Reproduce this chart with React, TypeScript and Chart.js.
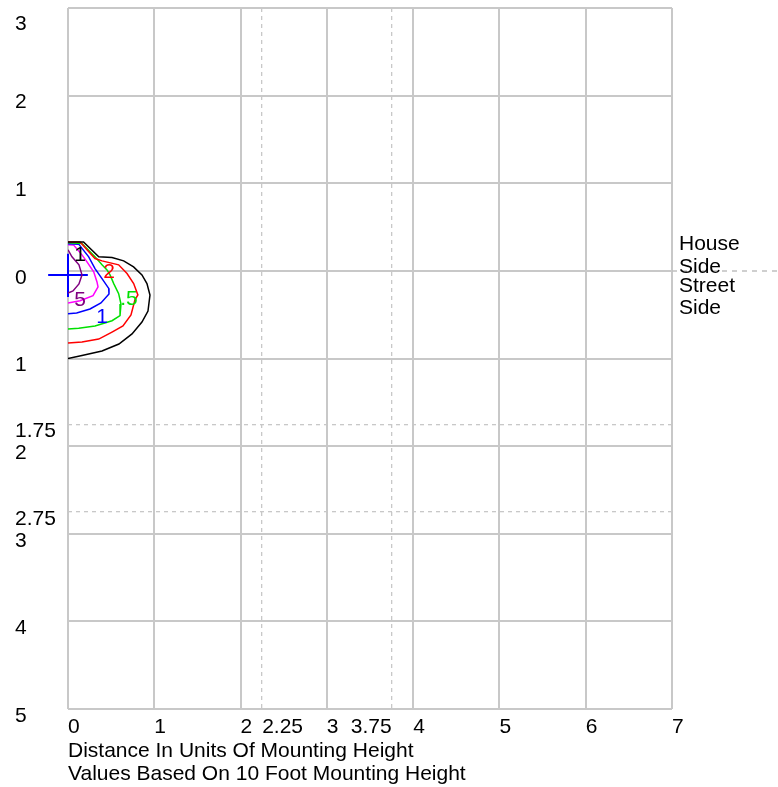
import React, { useEffect, useRef } from 'react';
import { Chart, registerables } from 'chart.js';

Chart.register(...registerables);

// Tick values (x = distance along street, y = house side (+) / street side (-))
const xTicks = [0, 1, 2, 2.25, 3, 3.75, 4, 5, 6, 7];
const xTicksRightAligned = [3.75];
const yTicks = [-5, -4, -3, -2.75, -2, -1.75, -1, 0, 1, 2, 3];

// Iso-footcandle contours, [x, y] in mounting heights
const contour01: [number, number][] = [
  [0, 0.33], [0.18, 0.33], [0.356, 0.16], [0.51, 0.152], [0.645, 0.114], [0.76, 0.046],
  [0.857, -0.046], [0.915, -0.145], [0.95, -0.275], [0.927, -0.458], [0.857, -0.584],
  [0.742, -0.72], [0.59, -0.835], [0.394, -0.915], [0.162, -0.965], [0, -1.0],
];
const contour02: [number, number][] = [
  [0, 0.33], [0.14, 0.33], [0.22, 0.24], [0.313, 0.141], [0.394, 0.114], [0.587, 0.069],
  [0.684, -0.031], [0.761, -0.145], [0.81, -0.275], [0.776, -0.33], [0.73, -0.503],
  [0.637, -0.629], [0.51, -0.698], [0.356, -0.778], [0.162, -0.812], [0, -0.824],
];
const contour05: [number, number][] = [
  [0, 0.32], [0.162, 0.312], [0.313, 0.16], [0.394, 0.069], [0.452, 0.011], [0.487, -0.046],
  [0.53, -0.145], [0.587, -0.26], [0.614, -0.378], [0.603, -0.511], [0.51, -0.569],
  [0.313, -0.629], [0.124, -0.656], [0, -0.664],
];
const contour1: [number, number][] = [
  [0, 0.31], [0.124, 0.305], [0.24, 0.16], [0.313, 0.026], [0.394, -0.088], [0.472, -0.2],
  [0.475, -0.263], [0.382, -0.366], [0.255, -0.435], [0.1, -0.48], [0, -0.49],
];
const contour2: [number, number][] = [
  [0, 0.297], [0.066, 0.294], [0.162, 0.183], [0.22, 0.103], [0.298, -0.011], [0.336, -0.126],
  [0.348, -0.183], [0.29, -0.283], [0.139, -0.34], [0, -0.366],
];
const contour5: [number, number][] = [
  [0, 0.24], [0.046, 0.16], [0.127, 0.069], [0.162, -0.046], [0.127, -0.149], [0.058, -0.229], [0, -0.252],
];

// Luminaire cross and house/street divider
const crossH: [number, number][] = [[-0.23, -0.046], [0.23, -0.046]];
const crossV: [number, number][] = [[0, 0.195], [0, -0.297]];
const divider: [number, number][] = [[7, 0], [8.25, 0]];

const contourLabels = [
  { text: '1', x: 0.139, y: 0.195, color: '#000000' },
  { text: '2', x: 0.475, y: -0.005, color: '#ff0000' },
  { text: '.5', x: 0.707, y: -0.309, color: '#00e000' },
  { text: '1', x: 0.394, y: -0.515, color: '#0000ff' },
  { text: '5', x: 0.139, y: -0.32, color: '#800080' },
];
const sideLabels = ['House', 'Side', 'Street', 'Side'];

const xTitle = ['Distance In Units Of Mounting Height', 'Values Based On 10 Foot Mounting Height'];

const FONT = "'Liberation Sans', Arial, sans-serif";

const toPts = (a: [number, number][]) => a.map(([x, y]) => ({ x, y }));

export default function App() {
  const ref = useRef<HTMLCanvasElement | null>(null);

  useEffect(() => {
    if (!ref.current) return;
    const frac = (v: number) => Math.abs(v % 1) > 1e-9;

    // give the zero-height secondary x axis room so its label is not clipped
    const labelAreaPlugin = {
      id: 'labelArea',
      afterLayout(chart: any) {
        const s = chart.scales.x2;
        if (s) {
          s.bottom = s.top + 40;
          s.height = 40;
        }
      },
    };

    const textPlugin = {
      id: 'texts',
      afterDatasetsDraw(chart: any) {
        const { ctx, scales, chartArea } = chart;
        const xs = scales.x;
        const ys = scales.y;
        ctx.save();
        ctx.font = `21px ${FONT}`;
        ctx.textBaseline = 'middle';
        ctx.textAlign = 'center';
        contourLabels.forEach((l) => {
          ctx.fillStyle = l.color;
          ctx.fillText(l.text, xs.getPixelForValue(l.x), ys.getPixelForValue(l.y) + 1);
        });
        ctx.textAlign = 'left';
        ctx.fillStyle = '#000000';
        const zero = ys.getPixelForValue(0);
        const offs = [-27, -4, 15, 37];
        sideLabels.forEach((t, i) => {
          ctx.fillText(t, chartArea.right + 7, zero + offs[i]);
        });
        ctx.restore();
      },
    };

    const ds = (data: [number, number][], color: string, extra: any = {}) => ({
      data: toPts(data),
      borderColor: color,
      backgroundColor: color,
      borderWidth: 1.5,
      pointRadius: 0,
      showLine: true,
      fill: false,
      tension: 0,
      ...extra,
    });

    const tickFont = { family: FONT, size: 21, lineHeight: 1.2 };

    const chart = new Chart(ref.current, {
      type: 'scatter',
      data: {
        datasets: [
          ds(divider, '#c0c0c0', { borderDash: [5, 5], borderWidth: 1.5, clip: false }),
          ds(contour01, '#000000'),
          ds(contour02, '#ff0000'),
          ds(contour05, '#00e000'),
          ds(contour1, '#0000ff'),
          ds(contour2, '#ff00ff'),
          ds(contour5, '#800080'),
          ds(crossH, '#0000ff', { borderWidth: 2, clip: false }),
          ds(crossV, '#0000ff', { borderWidth: 2, clip: false }),
        ],
      },
      options: {
        animation: false,
        responsive: false,
        devicePixelRatio: 1,
        layout: { padding: { left: 15, top: 8, right: 106, bottom: 0 } },
        plugins: { legend: { display: false }, tooltip: { enabled: false } },
        scales: {
          x: {
            type: 'linear',
            min: 0,
            max: 7,
            weight: 0,
            afterBuildTicks: (s: any) => {
              s.ticks = xTicks.map((v) => ({ value: v }));
            },
            afterFit: (s: any) => {
              s.height = 78;
              s.paddingLeft = 0;
              s.paddingRight = 0;
            },
            ticks: {
              autoSkip: false,
              maxRotation: 0,
              minRotation: 0,
              align: 'start',
              padding: 6,
              color: '#000000',
              font: tickFont,
              callback: (v: any) => (xTicksRightAligned.includes(v) ? '' : String(v)),
            },
            grid: {
              drawTicks: false,
              color: '#c8c8c8',
              lineWidth: (c: any) => (c.tick && frac(c.tick.value) ? 1.3 : 2),
            },
            border: {
              display: false,
              dash: (c: any) => (c.tick && frac(c.tick.value) ? [4, 4] : []),
            },
            title: {
              display: true,
              text: xTitle,
              align: 'start',
              color: '#000000',
              font: { family: FONT, size: 21, lineHeight: 1.07 },
              padding: { top: 0, bottom: 2 },
            },
          },
          x2: {
            type: 'linear',
            position: 'bottom',
            min: 0,
            max: 7,
            weight: -1,
            afterBuildTicks: (s: any) => {
              s.ticks = xTicksRightAligned.map((v) => ({ value: v }));
            },
            afterFit: (s: any) => {
              s.height = 0;
              s.paddingLeft = 0;
              s.paddingRight = 0;
            },
            ticks: {
              autoSkip: false,
              maxRotation: 0,
              minRotation: 0,
              align: 'end',
              padding: 6,
              color: '#000000',
              font: tickFont,
              callback: (v: any) => String(v),
            },
            grid: { display: false, drawTicks: false },
            border: { display: false },
          },
          y: {
            type: 'linear',
            min: -5,
            max: 3,
            afterBuildTicks: (s: any) => {
              s.ticks = yTicks.map((v) => ({ value: v }));
            },
            afterFit: (s: any) => {
              s.width = 53;
              s.paddingTop = 0;
              s.paddingBottom = 0;
            },
            ticks: {
              autoSkip: false,
              crossAlign: 'far',
              padding: 0,
              labelOffset: 7,
              color: '#000000',
              font: (c: any) => ({
                family: FONT,
                size: 21,
                lineHeight: c.tick && c.tick.value === 3 ? 0.86 : 1.2,
              }),
              callback: (v: any) => (v === 3 ? ['', '3'] : String(Math.abs(v))),
            },
            grid: {
              drawTicks: false,
              color: '#c8c8c8',
              lineWidth: (c: any) => (c.tick && frac(c.tick.value) ? 1.3 : 2),
            },
            border: {
              display: false,
              dash: (c: any) => (c.tick && frac(c.tick.value) ? [4, 4] : []),
            },
          },
        },
      } as any,
      plugins: [labelAreaPlugin, textPlugin],
    });

    return () => chart.destroy();
  }, []);

  return (
    <div style={{ position: 'fixed', left: 0, top: 0, width: 778, height: 787, background: '#ffffff' }}>
      <canvas ref={ref} width={778} height={787} style={{ width: 778, height: 787, display: 'block' }} />
    </div>
  );
}
